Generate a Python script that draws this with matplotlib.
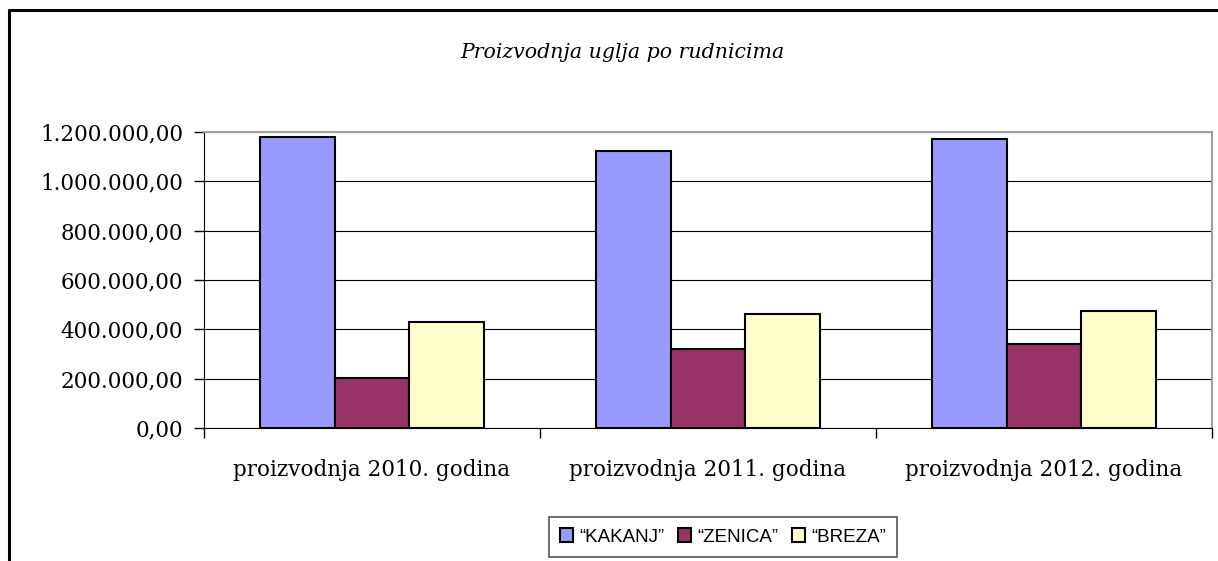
import matplotlib.pyplot as plt
import numpy as np
from matplotlib.lines import Line2D
from matplotlib.ticker import FuncFormatter

# data
categories = ['proizvodnja 2010. godina', 'proizvodnja 2011. godina', 'proizvodnja 2012. godina']
kakanj = [1178000, 1123000, 1170000]
zenica = [202000, 320000, 339000]
breza = [430000, 462000, 475000]
series_names = ['\u201cKAKANJ\u201d', '\u201cZENICA\u201d', '\u201cBREZA\u201d']
colors = ['#9999FF', '#993366', '#FFFFCC']
yticks = [0, 200000, 400000, 600000, 800000, 1000000, 1200000]

def fmt(v, pos):
    s = '{:,.2f}'.format(v)
    return s.replace(',', 'X').replace('.', ',').replace('X', '.')

fig = plt.figure(figsize=(12.18, 5.61), dpi=100)
ax = fig.add_axes([204/1218, 1 - 428/561, (1212 - 204)/1218, (428 - 132)/561])

x = np.arange(len(categories))
w = 1 / 4.5
for k, (vals, name, c) in enumerate(zip([kakanj, zenica, breza], series_names, colors)):
    ax.bar(x + (k - 1) * w, vals, width=w, color=c, edgecolor='black',
           linewidth=1.5, label=name, zorder=3)

ax.set_xlim(-0.5, 2.5)
ax.set_ylim(0, 1200000)
ax.set_yticks(yticks)
ax.yaxis.set_major_formatter(FuncFormatter(fmt))
ax.yaxis.grid(True, color='black', linewidth=0.8, zorder=0)
ax.set_xticks(x)
ax.set_xticklabels(categories)
ax.set_xticks([-0.5, 0.5, 1.5, 2.5], minor=True)
ax.tick_params(axis='x', which='major', length=0, pad=22)
ax.tick_params(axis='x', which='minor', length=7, width=1, direction='out')
ax.tick_params(axis='y', length=7, width=1, direction='out', pad=8)
for lab in ax.get_xticklabels():
    lab.set_family('DejaVu Serif')
    lab.set_fontsize(15.5)
for lab in ax.get_yticklabels():
    lab.set_family('DejaVu Serif')
    lab.set_fontsize(15.5)

ax.spines['top'].set_color('#a0a0a0')
ax.spines['right'].set_color('#a0a0a0')
ax.spines['top'].set_linewidth(1.5)
ax.spines['right'].set_linewidth(1.5)
ax.spines['left'].set_color('black')
ax.spines['bottom'].set_color('black')

fig.text(0.511, 1 - 52/561, 'Proizvodnja uglja po rudnicima', ha='center', va='center',
         family='DejaVu Serif', style='italic', fontsize=14.8)

leg = fig.legend(loc='center', bbox_to_anchor=(723/1218, 1 - 537/561), ncol=3,
                 fancybox=False, edgecolor='#555555', framealpha=1,
                 handlelength=0.7, handleheight=0.7, handletextpad=0.35,
                 columnspacing=0.7, borderpad=0.6,
                 prop={'family': 'Liberation Sans', 'size': 13.5})
leg.get_frame().set_linewidth(1.2)

# outer chart frame
fig.add_artist(Line2D([9/1218, 9/1218, 1.02], [-0.02, 1 - 10/561, 1 - 10/561],
                      transform=fig.transFigure, color='black', linewidth=2.2))

fig.savefig('out.png', dpi=100)
